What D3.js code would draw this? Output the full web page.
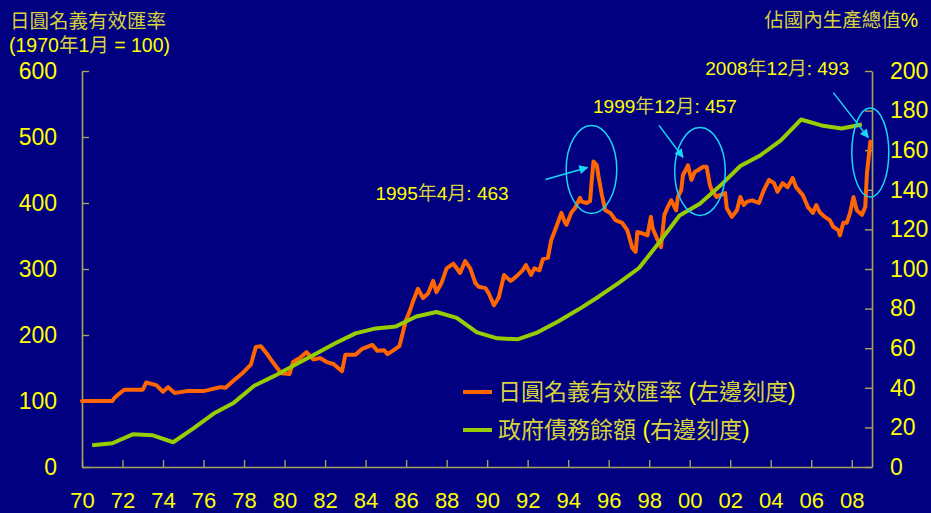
<!DOCTYPE html>
<html>
<head>
<meta charset="utf-8">
<script src="https://cdn.jsdelivr.net/npm/d3@7/dist/d3.min.js"></script>
<style>
  html, body { margin: 0; padding: 0; background: #000080; }
  svg { display: block; }
</style>
</head>
<body>
<svg id="chart" width="931" height="513"></svg>
<script>
// Yen nominal effective exchange rate (1970-01 = 100), monthly observations
const neerMonths = [
  "1970-01","1971-07","1971-08","1971-10","1972-02","1973-01","1973-03","1973-09","1974-01","1974-04",
  "1974-08","1975-03","1976-01","1976-11","1977-02","1977-06","1977-12","1978-05","1978-08","1978-11",
  "1979-03","1979-06","1979-11","1980-04","1980-06","1980-10","1981-02","1981-06","1981-10","1982-02",
  "1982-06","1982-11","1983-01","1983-07","1983-11","1984-05","1984-08","1984-12","1985-02","1985-05",
  "1985-09","1985-11","1986-01","1986-03","1986-05","1986-08","1986-11","1987-02","1987-05","1987-07",
  "1987-10","1988-01","1988-05","1988-09","1988-12","1989-03","1989-06","1989-08","1989-12","1990-02",
  "1990-05","1990-07","1990-08","1990-11","1991-01","1991-03","1991-06","1991-10","1991-12","1992-03",
  "1992-05","1992-08","1992-10","1993-01","1993-03","1993-06","1993-09","1993-11","1993-12","1994-03",
  "1994-05","1994-08","1994-09","1994-12","1995-02","1995-03","1995-04","1995-06","1995-07","1995-09",
  "1995-11","1996-02","1996-05","1996-09","1996-12","1997-03","1997-05","1997-06","1997-09","1997-12",
  "1998-02","1998-03","1998-06","1998-08","1998-10","1998-12","1999-02","1999-05","1999-06","1999-08",
  "1999-09","1999-12","2000-02","2000-04","2000-06","2000-09","2000-11","2001-01","2001-02","2001-05",
  "2001-07","2001-10","2001-11","2002-02","2002-05","2002-07","2002-09","2002-11","2003-02","2003-06",
  "2003-09","2003-12","2004-03","2004-05","2004-08","2004-11","2005-02","2005-04","2005-08","2005-11",
  "2006-02","2006-04","2006-06","2006-09","2006-12","2007-02","2007-05","2007-06","2007-08","2007-10",
  "2007-12","2008-02","2008-04","2008-07","2008-09","2008-10","2008-12"
];
const neerValues = [
  100,100,104,109,117,117,128,124,114,121,
  112,115,115,121,120,129,142,155,182,183,
  170,159,142,141,159,165,174,163,165,159,
  156,145,170,170,179,185,176,177,171,176,
  183,203,223,235,250,270,256,263,282,265,
  279,301,308,294,312,301,279,273,271,263,
  245,253,258,291,286,282,288,298,306,291,
  301,298,315,317,344,364,385,371,367,386,
  392,408,402,400,403,435,463,457,440,412,
  389,385,374,370,359,332,326,356,354,351,
  379,362,344,333,382,394,404,389,409,420,
  442,457,435,447,450,455,455,427,420,409,
  412,415,392,379,389,409,397,402,404,400,
  420,435,430,417,430,424,438,424,412,394,
  385,397,386,379,374,364,359,351,370,370,
  385,409,389,382,394,445,493
];

// Government debt outstanding, % of GDP (annual)
const debtYears = [
  1970,1971,1972,1973,1974,1975,1976,1977,1978,1979,
  1980,1981,1982,1983,1984,1985,1986,1987,1988,1989,
  1990,1991,1992,1993,1994,1995,1996,1997,1998,1999,
  2000,2001,2002,2003,2004,2005,2006,2007,2008
];
const debtValues = [
  11,12,16.5,16,12.5,19.5,27,32.5,41,46,
  51.5,57,62.5,67.5,70,71,76,78.3,75.3,68,
  65,64.5,68,73.5,79.5,86,93,100.5,113.5,127,
  133,142,152,157.5,165,175.5,172.5,171,173
];

const xTickYears = [1970,1972,1974,1976,1978,1980,1982,1984,1986,1988,1990,1992,1994,1996,1998,2000,2002,2004,2006,2008];
const leftTicks = [0,100,200,300,400,500,600];
const rightTicks = [0,20,40,60,80,100,120,140,160,180,200];

const leftTitle = ["日圓名義有效匯率", "(1970年1月 = 100)"];
const rightTitle = "佔國內生產總值%";
const seriesNames = ["日圓名義有效匯率 (左邊刻度)", "政府債務餘額 (右邊刻度)"];
const highlightMonths = ["1995-04", "1999-12", "2008-12"];

// ---- setup ----
const W = 931, H = 513;
const plot = { left: 82, right: 872, top: 71, bottom: 467 };
const YELLOW = "#ffff00";
const CJK_YELLOW = "#d8d23c";
const AXIS = "#aaa35a";
const ORANGE = "#ff6600";
const GREEN = "#99cc00";
const CYAN = "#1ad6f5";
const FONT = "'Liberation Sans', Arial, 'Noto Sans CJK TC', sans-serif";

const svg = d3.select("#chart");
svg.append("rect").attr("width", W).attr("height", H).attr("fill", "#000080");

const toT = m => { const [y, mo] = m.split("-").map(Number); return y + (mo - 1) / 12; };
const neer = neerMonths.map((m, i) => ({ m, t: toT(m), v: neerValues[i] }));
const debt = debtYears.map((y, i) => ({ t: y + 0.5, v: debtValues[i] }));

const x = d3.scaleLinear().domain([1970, 2009]).range([plot.left, plot.right]);
const yL = d3.scaleLinear().domain([0, 600]).range([plot.bottom, plot.top]);
const yR = d3.scaleLinear().domain([0, 200]).range([plot.bottom, plot.top]);

// text helper: CJK glyphs drawn a touch dimmer than Latin glyphs
const isCJK = ch => /[\u3000-\u9fff\uff00-\uffef]/.test(ch);
function richText(sel, str) {
  const runs = [];
  for (const ch of str) {
    const c = isCJK(ch);
    if (runs.length && runs[runs.length - 1].c === c) runs[runs.length - 1].s += ch;
    else runs.push({ c, s: ch });
  }
  runs.forEach(r => sel.append("tspan").attr("fill", r.c ? CJK_YELLOW : YELLOW).text(r.s));
  return sel;
}

// ---- axes ----
function styleAxis(g, size) {
  g.selectAll(".domain").attr("stroke", AXIS).attr("stroke-width", 1.6);
  g.selectAll(".tick line").attr("stroke", AXIS).attr("stroke-width", 1.4);
  g.selectAll(".tick text").attr("fill", YELLOW).attr("font-family", FONT).attr("font-size", size);
}

svg.append("g")
  .attr("transform", `translate(${plot.left},0)`)
  .call(d3.axisLeft(yL).tickValues(leftTicks).tickSizeInner(-7).tickSizeOuter(0).tickPadding(25))
  .call(g => styleAxis(g, 23));

svg.append("g")
  .attr("transform", `translate(${plot.right},0)`)
  .call(d3.axisRight(yR).tickValues(rightTicks).tickSizeInner(-7).tickSizeOuter(0).tickPadding(18))
  .call(g => styleAxis(g, 23));

svg.append("g")
  .attr("transform", `translate(0,${plot.bottom})`)
  .call(d3.axisBottom(x).tickValues(xTickYears).tickSizeInner(-7).tickSizeOuter(0).tickPadding(25)
    .tickFormat(d => String(d % 100).padStart(2, "0")))
  .call(g => styleAxis(g, 22));

// ---- titles ----
richText(svg.append("text").attr("x", 10).attr("y", 28)
  .attr("font-family", FONT).attr("font-size", 19.5), leftTitle[0]);
richText(svg.append("text").attr("x", 9).attr("y", 52)
  .attr("font-family", FONT).attr("font-size", 19.5), leftTitle[1]);
richText(svg.append("text").attr("x", 918).attr("y", 27).attr("text-anchor", "end")
  .attr("font-family", FONT).attr("font-size", 19.5), rightTitle);

// ---- series ----
const lineL = d3.line().x(d => x(d.t)).y(d => yL(d.v));
const lineR = d3.line().x(d => x(d.t)).y(d => yR(d.v));

svg.append("path").datum(neer).attr("d", lineL)
  .attr("fill", "none").attr("stroke", ORANGE).attr("stroke-width", 4)
  .attr("stroke-linejoin", "round").attr("stroke-linecap", "round");

svg.append("path").datum(debt).attr("d", lineR)
  .attr("fill", "none").attr("stroke", GREEN).attr("stroke-width", 4)
  .attr("stroke-linejoin", "round").attr("stroke-linecap", "butt");

// ---- highlighted peaks ----
const defs = svg.append("defs");
defs.append("marker").attr("id", "arrowhead")
  .attr("viewBox", "0 0 10 10").attr("refX", 9).attr("refY", 5)
  .attr("markerWidth", 7).attr("markerHeight", 7).attr("orient", "auto")
  .attr("markerUnits", "userSpaceOnUse")
  .append("path").attr("d", "M0,0 L10,5 L0,10 Z").attr("fill", CYAN);
defs.select("marker").attr("markerWidth", 11).attr("markerHeight", 9);

// placement of ring, arrow and label around each highlighted month
const callouts = [
  { ring: { dx: -2, dy: 8, rx: 25.3, ry: 44 }, arrow: [[-48, 18], [-6, 6]], label: { dx: -218, dy: 39 } },
  { ring: { dx: 12, dy: 6, rx: 25.3, ry: 44 }, arrow: [[-29, -40], [-5, -8]], label: { dx: -95, dy: -52 } },
  { ring: { dx: 0, dy: 11, rx: 18.5, ry: 44.5 }, arrow: [[-37, -49], [-2, -4]], label: { dx: -165, dy: -67 } }
];

highlightMonths.forEach((m, i) => {
  const d = neer.find(p => p.m === m);
  const px = x(d.t), py = yL(d.v);
  const c = callouts[i];
  svg.append("ellipse")
    .attr("cx", px + c.ring.dx).attr("cy", py + c.ring.dy)
    .attr("rx", c.ring.rx).attr("ry", c.ring.ry)
    .attr("fill", "none").attr("stroke", CYAN).attr("stroke-width", 1.5);
  svg.append("line")
    .attr("x1", px + c.arrow[0][0]).attr("y1", py + c.arrow[0][1])
    .attr("x2", px + c.arrow[1][0]).attr("y2", py + c.arrow[1][1])
    .attr("stroke", CYAN).attr("stroke-width", 1.5)
    .attr("marker-end", "url(#arrowhead)");
  const [yy, mo] = m.split("-").map(Number);
  richText(svg.append("text")
    .attr("x", px + c.label.dx).attr("y", py + c.label.dy)
    .attr("font-family", FONT).attr("font-size", 19), `${yy}年${mo}月: ${d.v}`);
});

// ---- legend ----
const legend = svg.append("g");
[ORANGE, GREEN].forEach((col, i) => {
  const yy = 392 + i * 38;
  legend.append("line").attr("x1", 463).attr("x2", 492).attr("y1", yy).attr("y2", yy)
    .attr("stroke", col).attr("stroke-width", 4);
  richText(legend.append("text").attr("x", 498).attr("y", yy + 8)
    .attr("font-family", FONT).attr("font-size", 23), seriesNames[i]);
});
</script>
</body>
</html>
